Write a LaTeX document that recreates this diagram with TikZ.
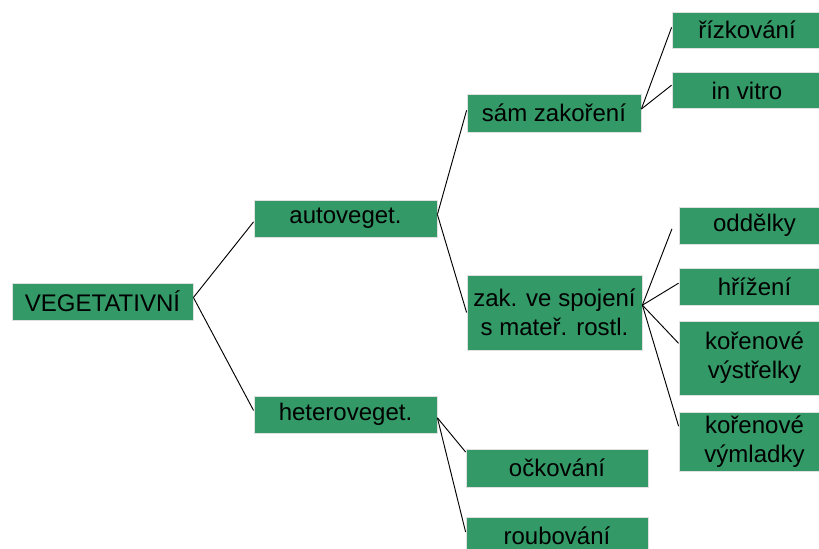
\documentclass[tikz,border=0pt]{standalone}
\usepackage{fontspec}
\setmainfont{Liberation Sans}
\definecolor{leafgreen}{RGB}{51,153,102}
\begin{document}
\begin{tikzpicture}[x=0.75pt,y=-0.75pt,
  greenbox/.style={fill=leafgreen,draw=black!12,line width=0.6pt,inner sep=0pt,
    align=center,font=\fontsize{18}{21.6}\selectfont},
  boxsize/.style 2 args={minimum width=#1*0.75pt,minimum height=#2*0.75pt},
  twig/.style={black,line width=0.7pt}]
 \clip (0,0) rectangle (819,549);
 % root
 \node[greenbox,boxsize={181}{37}] (veg) at (102.5,301.5) {VEGETATIVNÍ};
 % first level
 \node[greenbox,boxsize={183}{37}] (auto) at (345.5,218.5) {autoveget.};
 \node[greenbox,boxsize={183}{37}] (hetero) at (345.5,414.5) {heteroveget.};
 % second level
 \node[greenbox,boxsize={174}{38}] (sam) at (554,113) {sám zakoření};
 \node[greenbox,boxsize={175}{75}] (zak) at (554.5,312.5) {zak. ve spojení\\s mateř. rostl.};
 \node[greenbox,boxsize={182}{38}] (ock) at (557,468) {očkování};
 \node[greenbox,boxsize={182}{38}] (roub) at (557,536) {roubování};
 % leaves
 \node[greenbox,boxsize={150}{36}] (rizk) at (747,30) {řízkování};
 \node[greenbox,boxsize={150}{36}] (vitro) at (747,90.5) {in vitro};
 \node[greenbox,boxsize={151}{37}] (odd) at (754.5,225.5) {oddělky};
 \node[greenbox,boxsize={151}{37}] (hriz) at (754.5,286.5) {hřížení};
 \node[greenbox,boxsize={151}{74}] (vystr) at (754.5,358) {kořenové\\výstřelky};
 \node[greenbox,boxsize={151}{59}] (vyml) at (754.5,441.5) {kořenové\\výmladky};
 % connectors
 \draw[twig] ([yshift=3pt]veg.east) -- ([yshift=-2.5pt]auto.west);
 \draw[twig] ([yshift=3pt]veg.east) -- ([yshift=3pt]hetero.west);
 \draw[twig] ([yshift=3pt]auto.east) -- ([yshift=2pt]sam.west);
 \draw[twig] ([yshift=3pt]auto.east) -- (zak.west);
 \draw[twig] ([yshift=3pt]sam.east) -- ([yshift=2pt]rizk.west);
 \draw[twig] ([yshift=3pt]sam.east) -- ([yshift=4pt]vitro.west);
 \draw[twig] ([yshift=5.5pt]zak.east) -- ([xshift=-5pt,yshift=-2.5pt]odd.west);
 \draw[twig] ([yshift=5.5pt]zak.east) -- ([yshift=2.5pt]hriz.west);
 \draw[twig] ([yshift=5.5pt]zak.east) -- ([yshift=11pt]vystr.west);
 \draw[twig] ([yshift=5.5pt]zak.east) -- ([yshift=11.5pt]vyml.west);
 \draw[twig] ([yshift=-2.5pt]hetero.east) -- ([yshift=12pt]ock.west);
 \draw[twig] ([yshift=-2.5pt]hetero.east) -- ([yshift=3pt]roub.west);
\end{tikzpicture}
\end{document}
